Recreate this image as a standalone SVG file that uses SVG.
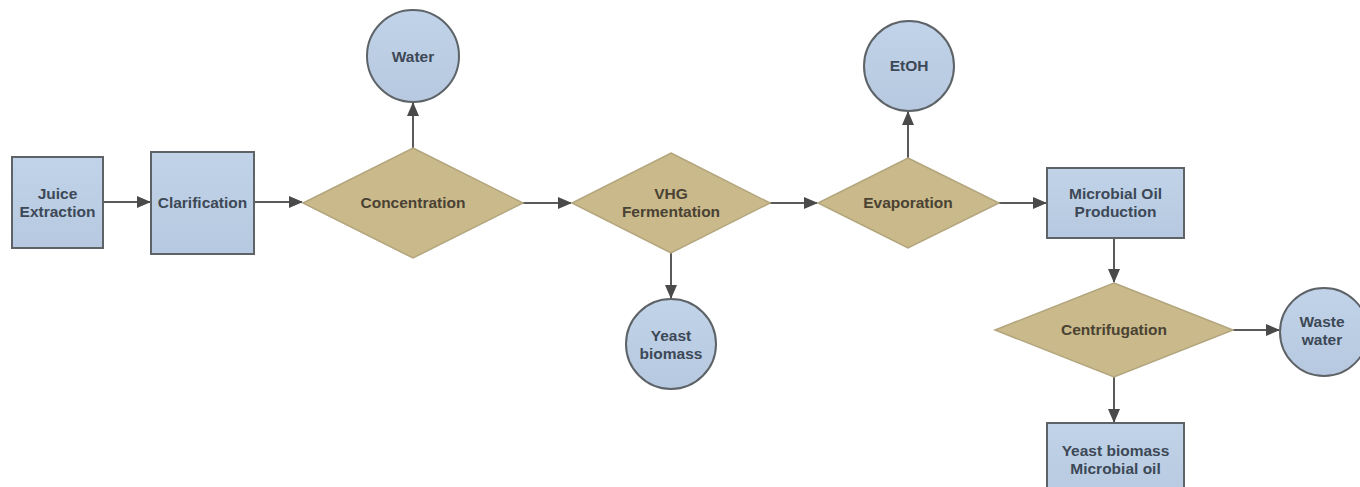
<svg xmlns="http://www.w3.org/2000/svg" width="1360" height="487" viewBox="0 0 1360 487">
<style>
.box{fill:url(#gb);stroke:#5e6368;stroke-width:2}
.circ{fill:url(#gc);stroke:#5e6368;stroke-width:2}
.dia{fill:#c9b98b;stroke:#b3a57d;stroke-width:1.5}
.t{font-family:"Liberation Sans",Arial,sans-serif;font-weight:bold;font-size:15.5px;text-anchor:middle;fill:#3d4856}
.td{fill:#4a4232}
.c{stroke:#5a5a5a;stroke-width:2;fill:none;marker-end:url(#ah)}
</style>
<defs>
<linearGradient id="gb" x1="0" y1="0" x2="0" y2="1"><stop offset="0" stop-color="#c0d3e8"/><stop offset="1" stop-color="#b6c9e0"/></linearGradient>
<linearGradient id="gc" x1="0" y1="0" x2="0" y2="1"><stop offset="0" stop-color="#c1d3e8"/><stop offset="1" stop-color="#b6c9e0"/></linearGradient>
<marker id="ah" markerWidth="14" markerHeight="12" refX="13" refY="6" orient="auto" markerUnits="userSpaceOnUse"><path d="M0,0 L14,6 L0,12 Z" fill="#4a4a4a"/></marker>
</defs>
<rect width="1360" height="487" fill="#ffffff"/>
<g id="connectors">
<line class="c" x1="103" y1="202" x2="150" y2="202"/>
<line class="c" x1="255" y1="202" x2="302" y2="202"/>
<line class="c" x1="413" y1="148" x2="413" y2="103"/>
<line class="c" x1="523" y1="203" x2="571" y2="203"/>
<line class="c" x1="671" y1="253" x2="671" y2="298"/>
<line class="c" x1="770" y1="203" x2="817" y2="203"/>
<line class="c" x1="908" y1="158" x2="908" y2="112"/>
<line class="c" x1="999" y1="203" x2="1046" y2="203"/>
<line class="c" x1="1114" y1="238" x2="1114" y2="282"/>
<line class="c" x1="1233" y1="330" x2="1279" y2="330"/>
<line class="c" x1="1114" y1="377" x2="1114" y2="422"/>
</g>
<g id="juice">
<rect class="box" x="12" y="157" width="91" height="91"/>
<text class="t" x="57.5" y="199">Juice</text>
<text class="t" x="57.5" y="217">Extraction</text>
</g>
<g id="clarification">
<rect class="box" x="151" y="152" width="103" height="102"/>
<text class="t" x="202.5" y="208">Clarification</text>
</g>
<g id="concentration">
<polygon class="dia" points="413,148 523,203 413,258 303,203"/>
<text class="t td" x="413" y="208">Concentration</text>
</g>
<g id="water">
<circle class="circ" cx="413" cy="56" r="46"/>
<text class="t" x="413" y="62">Water</text>
</g>
<g id="vhg">
<polygon class="dia" points="671,153 770,203 671,253 572,203"/>
<text class="t td" x="671" y="199">VHG</text>
<text class="t td" x="671" y="217">Fermentation</text>
</g>
<g id="yeast">
<circle class="circ" cx="671" cy="344" r="45"/>
<text class="t" x="671" y="341">Yeast</text>
<text class="t" x="671" y="359">biomass</text>
</g>
<g id="evaporation">
<polygon class="dia" points="908,158 999,203 908,248 818,203"/>
<text class="t td" x="908" y="208">Evaporation</text>
</g>
<g id="etoh">
<circle class="circ" cx="909" cy="66" r="45"/>
<text class="t" x="909" y="71">EtOH</text>
</g>
<g id="microbial">
<rect class="box" x="1047" y="168" width="137" height="70"/>
<text class="t" x="1115.5" y="199">Microbial Oil</text>
<text class="t" x="1115.5" y="217">Production</text>
</g>
<g id="centrifugation">
<polygon class="dia" points="1114,283 1233,330 1114,377 995,330"/>
<text class="t td" x="1114" y="335">Centrifugation</text>
</g>
<g id="waste">
<circle class="circ" cx="1324" cy="332" r="44"/>
<text class="t" x="1322" y="327">Waste</text>
<text class="t" x="1322" y="345">water</text>
</g>
<g id="product">
<rect class="box" x="1047" y="423" width="137" height="80"/>
<text class="t" x="1115.5" y="456">Yeast biomass</text>
<text class="t" x="1115.5" y="474">Microbial oil</text>
</g>
</svg>
